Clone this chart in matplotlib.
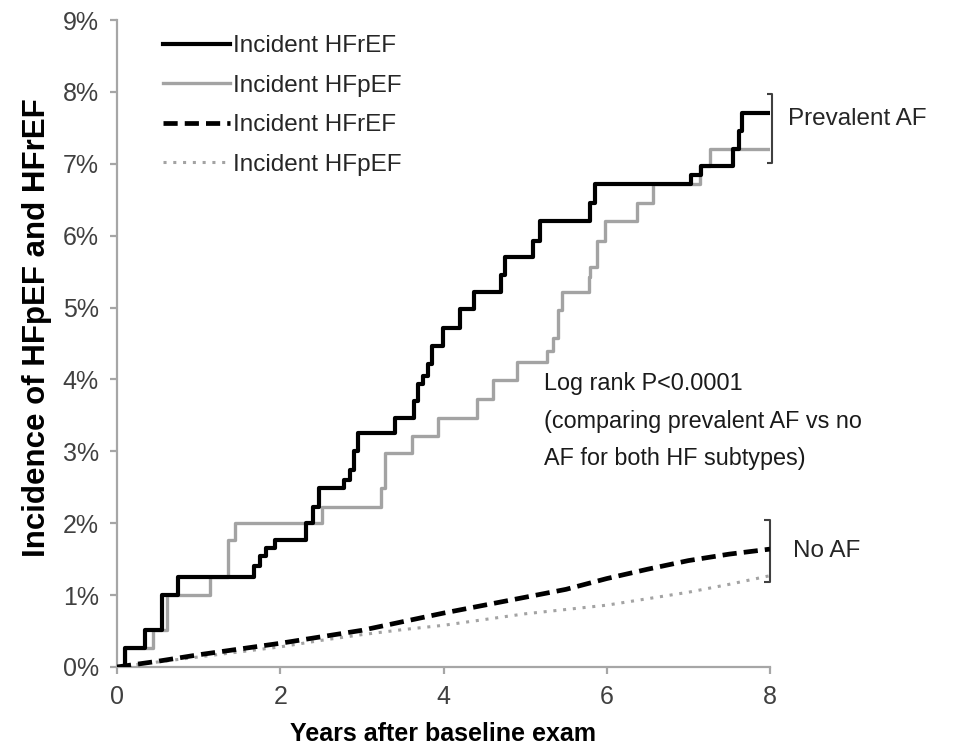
import matplotlib
matplotlib.use("Agg")
import matplotlib.pyplot as plt
from matplotlib import font_manager

_names = {f.name for f in font_manager.fontManager.ttflist}
BASE = "Liberation Sans" if "Liberation Sans" in _names else "DejaVu Sans"
plt.rcParams["font.family"] = [BASE, "DejaVu Sans"]

# Prevalent AF: Kaplan-Meier style step curves (years, cumulative %)
hfref_af_t = [0, 0.1, 0.34, 0.55, 0.75, 1.68, 1.75, 1.83, 1.93, 2.32, 2.4, 2.48,
              2.78, 2.86, 2.9, 2.95, 3.4, 3.64, 3.69, 3.75, 3.81, 3.86, 3.99,
              4.2, 4.37, 4.7, 4.75, 5.1, 5.18, 5.8, 5.86, 7.03, 7.15, 7.55,
              7.62, 7.66, 8.0]
hfref_af_v = [0, 0.26, 0.51, 1.0, 1.25, 1.4, 1.55, 1.65, 1.76, 2.0, 2.22, 2.49,
              2.6, 2.74, 3.0, 3.25, 3.47, 3.7, 3.94, 4.05, 4.22, 4.47, 4.72,
              4.98, 5.21, 5.45, 5.7, 5.93, 6.21, 6.45, 6.72, 6.85, 6.97, 7.2,
              7.45, 7.71, 7.71]

hfpef_af_t = [0, 0.1, 0.44, 0.61, 1.14, 1.36, 1.45, 2.51, 3.24, 3.28, 3.62, 3.93,
              4.41, 4.61, 4.9, 5.27, 5.34, 5.4, 5.45, 5.78, 5.8, 5.88, 5.98,
              6.37, 6.57, 7.14, 7.27, 8.0]
hfpef_af_v = [0, 0.26, 0.51, 1.0, 1.25, 1.76, 2.0, 2.22, 2.49, 2.97, 3.22, 3.47,
              3.73, 3.99, 4.24, 4.4, 4.58, 4.96, 5.21, 5.42, 5.56, 5.93, 6.21,
              6.46, 6.72, 6.97, 7.21, 7.21]

# No AF curves
noaf_t = [0, 0.5, 1.0, 1.5, 2.0, 2.5, 3.0, 3.5, 4.0, 4.5, 5.0, 5.5, 6.0, 6.5,
          7.0, 7.5, 8.0]
hfref_noaf_v = [0, 0.08, 0.17, 0.25, 0.33, 0.42, 0.51, 0.63, 0.75, 0.86, 0.97,
                1.08, 1.23, 1.36, 1.48, 1.57, 1.64]
hfpef_noaf_v = [0, 0.07, 0.14, 0.21, 0.28, 0.37, 0.45, 0.52, 0.58, 0.66, 0.74,
                0.80, 0.86, 0.95, 1.04, 1.15, 1.27]

labels = ["Incident HFrEF", "Incident HFpEF", "Incident HFrEF", "Incident HFpEF"]
x_ticks = [0, 2, 4, 6, 8]
y_ticks = [0, 1, 2, 3, 4, 5, 6, 7, 8, 9]

BLACK = "#000000"
GRAY = "#a3a3a3"
AXIS_GRAY = "#a6a6a6"
TICK_TXT = "#404040"

fig = plt.figure(figsize=(9.57, 7.53), dpi=100)
ax = fig.add_axes([117 / 957, 86 / 753, 653 / 957, 647 / 753])

ax.step(hfref_af_t, hfref_af_v, where="post", color=BLACK, lw=3.0,
        label=labels[0], zorder=4)
ax.step(hfpef_af_t, hfpef_af_v, where="post", color=GRAY, lw=2.4,
        label=labels[1], zorder=3)
ax.plot(noaf_t, hfref_noaf_v, color=BLACK, lw=3.4, dashes=(3.0, 1.5),
        label=labels[2], zorder=4)
ax.plot(noaf_t, hfpef_noaf_v, color=GRAY, lw=2.2, dashes=(1.0, 2.2),
        label=labels[3], zorder=3)

ax.set_xlim(0, 8)
ax.set_ylim(0, 9)
ax.set_xticks(x_ticks)
ax.set_xticklabels([str(v) for v in x_ticks])
ax.set_yticks(y_ticks)
ax.set_yticklabels([f"{v}%" for v in y_ticks])

for s in ("top", "right"):
    ax.spines[s].set_visible(False)
for s in ("left", "bottom"):
    ax.spines[s].set_color(AXIS_GRAY)
    ax.spines[s].set_linewidth(1.6)
ax.tick_params(axis="both", direction="out", length=5, width=1.6,
               color=AXIS_GRAY, labelsize=18, labelcolor=TICK_TXT)
ax.tick_params(axis="y", pad=8)
ax.tick_params(axis="x", pad=8)

ax.set_xlabel("Years after baseline exam", fontsize=18, fontweight="bold",
              labelpad=9)
ax.set_ylabel("Incidence of HFpEF and HFrEF", fontsize=22.5,
              fontweight="bold")
ax.yaxis.set_label_coords(-0.099, 0.524)

leg = ax.legend(loc="upper left", bbox_to_anchor=(163 / 957, 1 - 35 / 753),
                bbox_transform=fig.transFigure, frameon=False, fontsize=17.5,
                handlelength=2.75, handletextpad=0.12, labelspacing=0.72,
                borderpad=0, borderaxespad=0)
for t in leg.get_texts():
    t.set_color("#262626")

# Group brackets on the right-hand side
def bracket(y0, y1, x=8.03, w=0.07):
    ax.plot([x - w, x, x, x - w], [y1, y1, y0, y0], color="#404040",
            lw=1.5, clip_on=False, solid_capstyle="butt")

bracket(7.01, 7.97)
bracket(1.18, 2.04, x=8.0)
ax.text(8.22, 7.62, "Prevalent AF", fontsize=17.5, color="#262626",
        va="center", ha="left", clip_on=False)
ax.text(8.28, 1.62, "No AF", fontsize=17.5, color="#262626",
        va="center", ha="left", clip_on=False)

ax.text(5.23, 4.1,
        "Log rank P<0.0001\n(comparing prevalent AF vs no\nAF for both HF subtypes)",
        fontsize=16.8, color="#1a1a1a", va="top", ha="left", linespacing=1.8)

fig.savefig("out.png", dpi=100)
